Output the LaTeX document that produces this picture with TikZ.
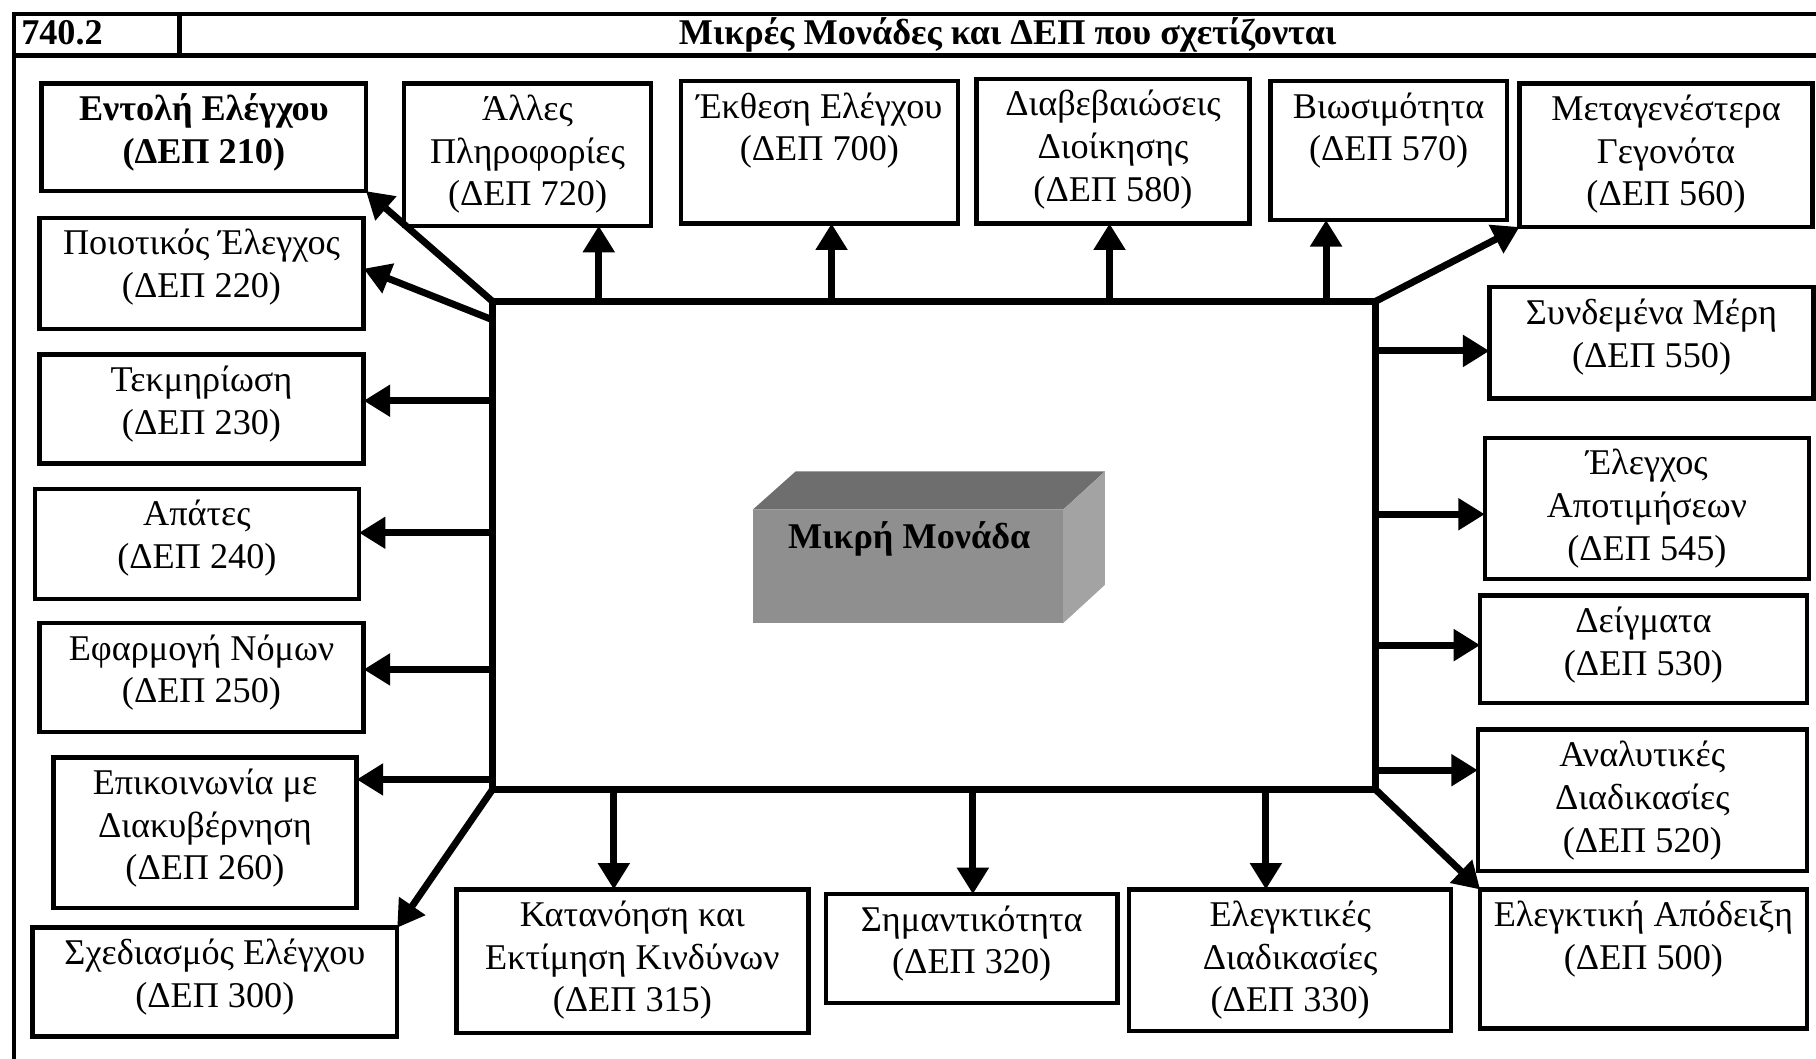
\documentclass[tikz,border=0pt]{standalone}
\usepackage{fontspec}
\setmainfont{Liberation Serif}
\usetikzlibrary{arrows.meta,fit,calc}
\newcommand\toprl{\rule{0pt}{14pt}}
\newcommand\ibox[6]{%
  \node[box, fit={(#2,#3) (#4,#5)}] (#1) {};
  \node[txt] (#1t) at ([yshift=-4pt]#1.north) {\toprl #6};}
\begin{document}
\begin{tikzpicture}[x=0.02cm,y=-0.02cm,
  box/.style={draw, line width=2.2pt, inner sep=0pt, outer sep=0pt, rectangle},
  txt/.style={anchor=north, inner sep=0pt, align=center, font=\fontsize{17.8}{21}\selectfont},
  hdr/.style={inner sep=0pt, font=\fontsize{17.8}{21}\selectfont\bfseries},
  arr/.style={line width=3.4pt, -{Triangle[length=13pt,width=15pt]}},
  frameline/.style={line width=2.2pt}]
\useasboundingbox (0,0) rectangle (1568,914);
% outer frame and header
\draw[frameline] (12,914) -- (12,12) -- (1568,12);
\draw[frameline] (12,48) -- (1568,48);
\draw[frameline] (155,12) -- (155,48);
\node[hdr, anchor=base west] (num) at (18,38) {740.2};
\node[hdr, anchor=base] (title) at (870,38) {Μικρές Μονάδες και ΔΕΠ που σχετίζονται};
% central frame
\node[draw, line width=3.4pt, inner sep=0pt, outer sep=0pt, fit={(425,260) (1188,682)}] (core) {};
% 3D box
\fill[fill={rgb,255:red,110;green,110;blue,110}] (650,440) -- (687,407) -- (954,407) -- (918,440) -- cycle;
\fill[fill={rgb,255:red,163;green,163;blue,163}] (918,440) -- (954,407) -- (954,505) -- (918,538) -- cycle;
\node[fill={rgb,255:red,143;green,143;blue,143}, inner sep=0pt, outer sep=0pt, fit={(650,440) (918,538)}] (unit) {};
\node[hdr] (unitt) at (785,465) {Μικρή Μονάδα};
% boxes left
\ibox{b210}{36}{72}{316}{165}{\bfseries Εντολή Ελέγχου\\\bfseries (ΔΕΠ 210)}
\ibox{b220}{34}{188}{314}{284}{Ποιοτικός Έλεγχος\\(ΔΕΠ 220)}
\ibox{b230}{34}{306}{314}{400}{Τεκμηρίωση\\(ΔΕΠ 230)}
\ibox{b240}{30}{422}{310}{517}{Απάτες\\(ΔΕΠ 240)}
\ibox{b250}{34}{538}{314}{632}{Εφαρμογή Νόμων\\(ΔΕΠ 250)}
\ibox{b260}{46}{654}{308}{784}{Επικοινωνία με\\Διακυβέρνηση\\(ΔΕΠ 260)}
\ibox{b300}{28}{801}{343}{895}{Σχεδιασμός Ελέγχου\\(ΔΕΠ 300)}
% boxes top
\ibox{b720}{349}{72}{562}{195}{Άλλες\\Πληροφορίες\\(ΔΕΠ 720)}
\ibox{b700}{588}{70}{827}{193}{Έκθεση Ελέγχου\\(ΔΕΠ 700)}
\ibox{b580}{843}{68}{1079}{193}{Διαβεβαιώσεις\\Διοίκησης\\(ΔΕΠ 580)}
\ibox{b570}{1097}{70}{1301}{190}{Βιωσιμότητα\\(ΔΕΠ 570)}
\ibox{b560}{1312}{72}{1565}{196}{Μεταγενέστερα\\Γεγονότα\\(ΔΕΠ 560)}
% boxes right
\ibox{b550}{1286}{248}{1566}{344}{Συνδεμένα Μέρη\\(ΔΕΠ 550)}
\ibox{b545}{1282}{378}{1562}{500}{Έλεγχος\\Αποτιμήσεων\\(ΔΕΠ 545)}
\ibox{b530}{1278}{514}{1560}{607}{Δείγματα\\(ΔΕΠ 530)}
\ibox{b520}{1276}{630}{1560}{752}{Αναλυτικές\\Διαδικασίες\\(ΔΕΠ 520)}
\ibox{b500}{1278}{768}{1560}{888}{Ελεγκτική Απόδειξη\\(ΔΕΠ 500)}
% boxes bottom
\ibox{b315}{394}{768}{698}{892}{Κατανόηση και\\Εκτίμηση Κινδύνων\\(ΔΕΠ 315)}
\ibox{b320}{713}{772}{965}{866}{Σημαντικότητα\\(ΔΕΠ 320)}
\ibox{b330}{975}{768}{1253}{890}{Ελεγκτικές\\Διαδικασίες\\(ΔΕΠ 330)}
% arrows top
\draw[arr] (517,0 |- core.north) -- (517,0 |- b720.south);
\draw[arr] (718,0 |- core.north) -- (718,0 |- b700.south);
\draw[arr] (958,0 |- core.north) -- (958,0 |- b580.south);
\draw[arr] (1145,0 |- core.north) -- (1145,0 |- b570.south);
% arrows left
\draw[arr] (core.west |- 0,346) -- (b230.east |- 0,346);
\draw[arr] (core.west |- 0,460) -- (b240.east |- 0,460);
\draw[arr] (core.west |- 0,578) -- (b250.east |- 0,578);
\draw[arr] (core.west |- 0,673) -- (b260.east |- 0,673);
% arrows right
\draw[arr] (core.east |- 0,303) -- (b550.west |- 0,303);
\draw[arr] (core.east |- 0,444) -- (b545.west |- 0,444);
\draw[arr] (core.east |- 0,557) -- (b530.west |- 0,557);
\draw[arr] (core.east |- 0,665) -- (b520.west |- 0,665);
% arrows bottom
\draw[arr] (530,0 |- core.south) -- (530,0 |- b315.north);
\draw[arr] (840,0 |- core.south) -- (840,0 |- b320.north);
\draw[arr] (1093,0 |- core.south) -- (1093,0 |- b330.north);
% diagonal arrows
\draw[arr] (core.north west) -- (b210.south east);
\draw[arr] (core.west |- 0,276) -- (b220.east |- 0,232);
\draw[arr] (core.north east) -- (b560.south west);
\draw[arr] (core.south west) -- (b300.north east);
\draw[arr] (core.south east) -- (b500.north west);
\end{tikzpicture}
\end{document}
